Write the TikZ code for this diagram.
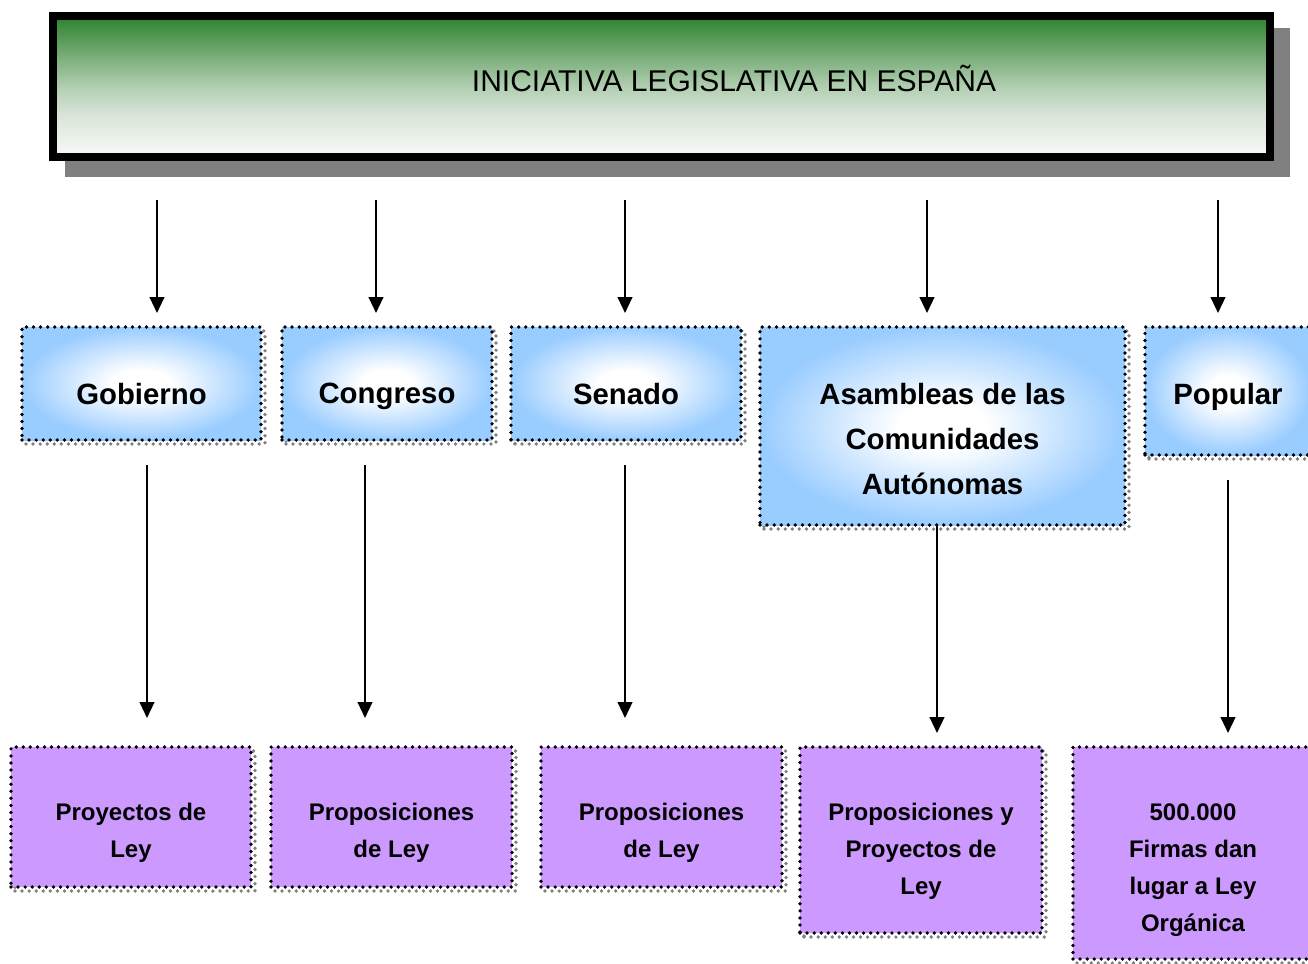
\documentclass[tikz,border=0pt]{standalone}
\usepackage{fontspec}
\setmainfont{Liberation Sans}
\usetikzlibrary{arrows.meta,shadows}

\definecolor{tgreen}{RGB}{45,130,45}
\definecolor{tlight}{RGB}{240,242,240}
\definecolor{skyblue}{RGB}{153,204,255}
\definecolor{lilac}{RGB}{204,153,255}

\pgfdeclareverticalshading{titlegreen}{100bp}{color(0bp)=(white); color(25bp)=(tlight!40!white); color(40bp)=(tgreen!12!tlight); color(49bp)=(tgreen!30!tlight); color(58.5bp)=(tgreen!55!tlight); color(67.5bp)=(tgreen!80!tlight); color(75bp)=(tgreen); color(100bp)=(tgreen)}
\pgfdeclareradialshading{blueglow}{\pgfpoint{0bp}{0bp}}{color(0bp)=(white); color(6bp)=(white); color(25bp)=(skyblue); color(50bp)=(skyblue)}

\tikzset{
    dotframe/.style={draw=black, line width=2.8pt, line cap=round, dash pattern=on 0pt off 5.3pt},
    boxshadow/.style={drop shadow={shadow xshift=3pt, shadow yshift=-3pt, opacity=1, fill=none, draw=gray, line width=2.8pt, line cap=round, dash pattern=on 0pt off 5.3pt}},
    titlebox/.style={draw=black, line width=6pt, shading=titlegreen, inner sep=0pt, outer sep=0pt,
        minimum width=912.75pt, minimum height=105.75pt,
        drop shadow={shadow xshift=12pt, shadow yshift=-12pt, opacity=1, fill=gray, draw=gray, line width=6pt}},
    bluebox/.style={boxshadow, dotframe, shading=blueglow, inner sep=0pt, outer sep=0pt, minimum height=84.75pt},
    lilacbox/.style={boxshadow, dotframe, fill=lilac, inner sep=0pt, outer sep=0pt, minimum height=105pt},
    bluetext/.style={anchor=north, inner sep=0pt, align=center, font=\bfseries\fontsize{22}{33.75}\selectfont},
    lilactext/.style={anchor=north, inner sep=0pt, align=center, font=\bfseries\fontsize{18}{27.75}\selectfont},
    arr/.style={line width=1.7pt, -{Triangle[length=12pt,width=11pt]}}
}

\begin{document}
\begin{tikzpicture}[x=0.75pt, y=-0.75pt]
    \path[use as bounding box, clip] (0,0) rectangle (1308,963);
    % title
    \node[titlebox] (title) at (661.5,86.5) {};
    \node[anchor=base, inner sep=0pt, font=\fontsize{22.5}{27}\selectfont] (titletxt) at (734,92) {INICIATIVA LEGISLATIVA EN ESPAÑA};
    % who may propose
    \node[bluebox, minimum width=179.25pt] (gob) at (141.5,383.5) {};
    \node[bluebox, minimum width=157.5pt] (cong) at (387,383.5) {};
    \node[bluebox, minimum width=172.5pt] (sen) at (626,383.5) {};
    \node[bluebox, minimum width=273.75pt, minimum height=148.5pt] (asam) at (942.5,426) {};
    \node[bluebox, minimum width=124.5pt, minimum height=96pt] (pop) at (1228,391) {};
    \node[bluetext] (gobtxt) at ([yshift=-42pt]gob.north) {Gobierno};
    \node[bluetext] (congtxt) at ([yshift=-42pt]cong.north) {Congreso};
    \node[bluetext] (sentxt) at ([yshift=-42pt]sen.north) {Senado};
    \node[bluetext] (asamtxt) at ([yshift=-42pt]asam.north) {Asambleas de las\\Comunidades\\Autónomas};
    \node[bluetext] (poptxt) at ([yshift=-42pt]pop.north) {Popular};
    % what they give
    \node[lilacbox, minimum width=180pt] (proy) at (131,817) {};
    \node[lilacbox, minimum width=180.75pt] (propcong) at (391.5,817) {};
    \node[lilacbox, minimum width=180.75pt] (propsen) at (661.5,817) {};
    \node[lilacbox, minimum width=181.5pt, minimum height=139.5pt] (propasam) at (921,840) {};
    \node[lilacbox, minimum width=180pt, minimum height=159pt] (firmas) at (1193,853) {};
    \node[lilactext] (proytxt) at ([yshift=-42pt]proy.north) {Proyectos de\\Ley};
    \node[lilactext] (propcongtxt) at ([yshift=-42pt]propcong.north) {Proposiciones\\de Ley};
    \node[lilactext] (propsentxt) at ([yshift=-42pt]propsen.north) {Proposiciones\\de Ley};
    \node[lilactext] (propasamtxt) at ([yshift=-42pt]propasam.north) {Proposiciones y\\Proyectos de\\Ley};
    \node[lilactext] (firmastxt) at ([yshift=-42pt]firmas.north) {500.000\\Firmas dan\\lugar a Ley\\Orgánica};
    % arrows
    \coordinate (tgob) at (157,200);
    \coordinate (tcong) at (376,200);
    \coordinate (tsen) at (625,200);
    \coordinate (tasam) at (927,200);
    \coordinate (tpop) at (1218,200);
    \draw[arr, shorten >=10.5pt] (tgob) -- (tgob |- gob.north);
    \draw[arr, shorten >=10.5pt] (tcong) -- (tcong |- cong.north);
    \draw[arr, shorten >=10.5pt] (tsen) -- (tsen |- sen.north);
    \draw[arr, shorten >=10.5pt] (tasam) -- (tasam |- asam.north);
    \draw[arr, shorten >=10.5pt] (tpop) -- (tpop |- pop.north);
    \coordinate (bgob) at (147,465);
    \coordinate (bcong) at (365,465);
    \coordinate (bsen) at (625,465);
    \coordinate (basam) at (937,525);
    \coordinate (bpop) at (1228,480);
    \draw[arr, shorten >=21.75pt] (bgob) -- (bgob |- proy.north);
    \draw[arr, shorten >=21.75pt] (bcong) -- (bcong |- propcong.north);
    \draw[arr, shorten >=21.75pt] (bsen) -- (bsen |- propsen.north);
    \draw[arr, shorten >=10.5pt] (basam) -- (basam |- propasam.north);
    \draw[arr, shorten >=10.5pt] (bpop) -- (bpop |- firmas.north);
\end{tikzpicture}
\end{document}
